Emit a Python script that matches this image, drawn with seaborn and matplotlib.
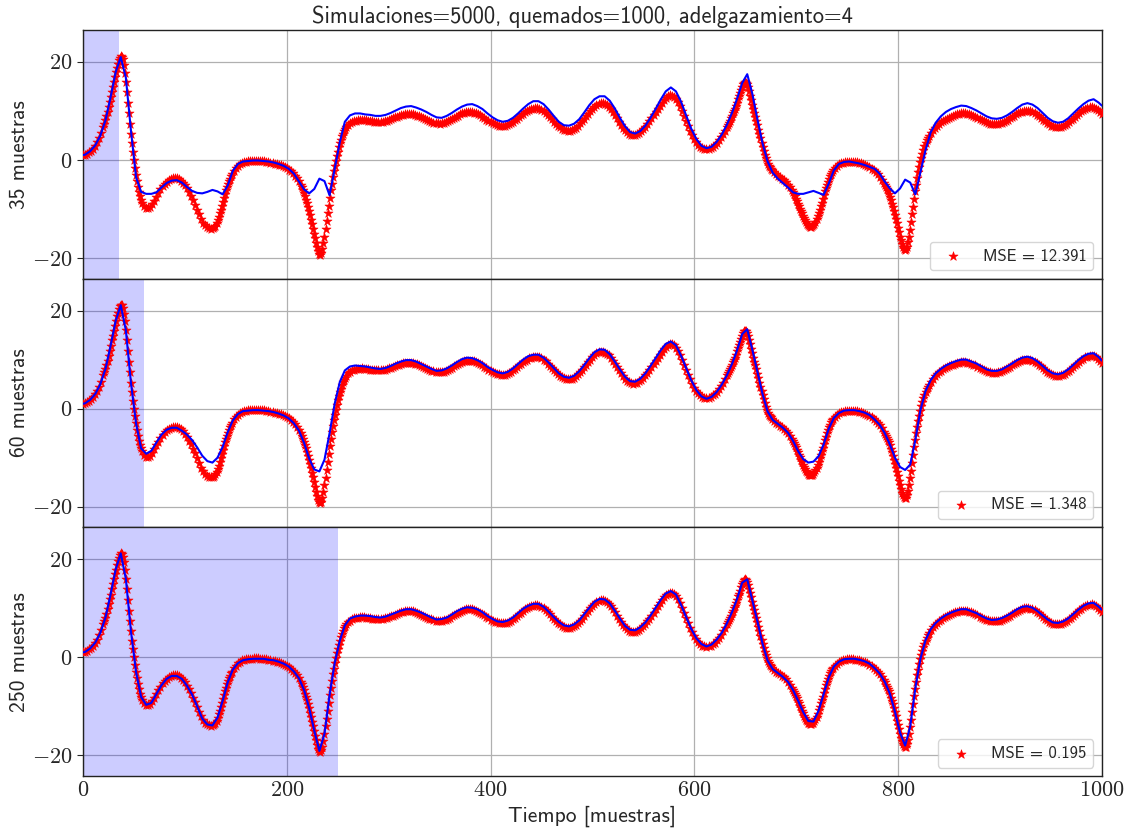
import numpy as np
import pandas as pd
import matplotlib
matplotlib.use('Agg')
import matplotlib.pyplot as plt
from matplotlib.ticker import FuncFormatter
import seaborn as sns

# true signal (red stars): every 2nd sample where smooth, every sample where steep
true_t = np.concatenate([
    np.arange(0, 20, 2), np.arange(20, 59), np.arange(60, 127, 2),
    np.arange(128, 147), np.arange(148, 213, 2), np.arange(214, 259),
    np.arange(260, 631, 2), np.arange(632, 677), np.arange(678, 695, 2),
    np.arange(696, 737), np.arange(738, 785, 2), np.arange(786, 831),
    np.arange(832, 1001, 2)])
true_y = [
    # 0..18
    1.0, 1.1, 1.3, 1.6, 1.9, 2.3, 2.9, 3.6, 4.5, 5.5,
    # 20..58
    6.8, 7.4, 8.1, 8.9, 9.8, 10.8, 11.8, 12.8, 13.9, 14.9,
    15.9, 16.9, 17.9, 18.8, 19.6, 20.3, 20.9, 21.2, 21.1, 20.5,
    19.4, 17.8, 16.0, 13.9, 11.7, 9.5, 7.4, 5.3, 3.4, 1.6,
    0.0, -1.6, -3.0, -4.3, -5.5, -6.5, -7.4, -8.1, -8.7,
    # 60..126
    -9.4, -9.8, -9.8, -9.6, -9.0, -8.3, -7.5, -6.7, -6.0, -5.3,
    -4.8, -4.4, -4.1, -3.9, -3.7, -3.7, -3.7, -3.9, -4.2, -4.6,
    -5.1, -5.8, -6.5, -7.3, -8.2, -9.1, -10.1, -11.1, -12.0, -12.8,
    -13.3, -13.7, -13.9, -14.0,
    # 128..146
    -13.9, -13.7, -13.4, -12.9, -12.3, -11.6, -10.9, -10.1, -9.3, -8.5,
    -7.7, -6.9, -6.2, -5.5, -4.9, -4.3, -3.8, -3.3, -2.9,
    # 148..212
    -2.2, -1.7, -1.2, -0.9, -0.6, -0.5, -0.4, -0.3, -0.3, -0.3,
    -0.2, -0.2, -0.2, -0.3, -0.3, -0.3, -0.4, -0.5, -0.6, -0.7,
    -0.8, -0.9, -1.0, -1.1, -1.3, -1.5, -1.7, -2.0, -2.3, -2.7,
    -3.2, -3.7, -4.3,
    # 214..258
    -5.0, -5.5, -6.1, -6.7,
    -7.4, -8.1, -8.8, -9.6, -10.4, -11.3, -12.2, -13.1, -14.0, -15.0,
    -16.0, -16.9, -17.8, -18.6, -19.1, -19.3, -19.0, -18.2, -17.0, -15.6,
    -14.1, -12.5, -10.9, -9.3, -7.7, -6.2, -4.8, -3.5, -2.3, -1.2,
    -0.2, 0.8, 1.7, 2.6, 3.4, 4.1, 4.8, 5.4, 5.9, 6.3, 6.7,
    # 260..630
    7.2, 7.5, 7.8, 7.95, 8.05, 8.1, 8.15, 8.2, 8.15, 8.1,
    8.0, 7.95, 7.9, 7.85, 7.8, 7.8, 7.8, 7.85, 7.95, 8.05,
    8.2, 8.35, 8.5, 8.7, 8.85, 9.0, 9.15, 9.25, 9.35, 9.4,
    9.4, 9.4, 9.35, 9.2, 9.05, 8.9, 8.7, 8.5, 8.3, 8.1,
    7.9, 7.75, 7.6, 7.5, 7.45, 7.4, 7.45, 7.55, 7.7, 7.9,
    8.1, 8.35, 8.6, 8.8, 9.05, 9.3, 9.5, 9.65, 9.75, 9.8,
    9.8, 9.75, 9.65, 9.5, 9.3, 9.1, 8.85, 8.55, 8.25, 7.95,
    7.7, 7.45, 7.25, 7.1, 7.0, 6.9, 6.9, 6.95, 7.05, 7.25,
    7.5, 7.8, 8.1, 8.45, 8.8, 9.1, 9.45, 9.75, 10.0, 10.25,
    10.4, 10.5, 10.6, 10.6, 10.5, 10.3, 10.0, 9.65, 9.2, 8.75,
    8.3, 7.85, 7.4, 7.0, 6.7, 6.4, 6.2, 6.05, 6.0, 6.0,
    6.1, 6.35, 6.6, 7.0, 7.45, 7.9, 8.4, 8.95, 9.45, 10.0,
    10.5, 10.9, 11.25, 11.5, 11.6, 11.6, 11.45, 11.2, 10.9, 10.4,
    9.8, 9.15, 8.5, 7.85, 7.2, 6.6, 6.1, 5.7, 5.4, 5.2,
    5.1, 5.15, 5.3, 5.55, 5.9, 6.3, 6.8, 7.3, 7.9, 8.5,
    9.1, 9.75, 10.4, 11.0, 11.6, 12.2, 12.65, 13.0, 13.2, 13.15,
    12.9, 12.4, 11.8, 11.0, 10.0, 9.0, 7.95, 6.9, 5.95, 5.1,
    4.3, 3.7, 3.15, 2.7, 2.4, 2.2, 2.15, 2.2, 2.4, 2.7,
    3.0, 3.45, 4.0, 4.6, 5.3, 6.0,
    # 632..676
    6.8, 7.2, 7.6, 8.0, 8.5, 9.0, 9.5, 10.0, 10.4, 11.0,
    11.7, 12.4, 13.0, 13.6, 14.3, 14.9, 15.4, 15.8, 15.9, 15.8,
    15.4, 14.8, 14.0, 13.1, 12.2, 11.3, 10.4, 9.6, 8.8, 8.0,
    7.1, 6.2, 5.3, 4.4, 3.5, 2.7, 1.9, 1.1, 0.4, -0.2,
    -0.8, -1.2, -1.5, -1.8, -2.1,
    # 678..694
    -2.5, -2.9, -3.2, -3.5, -3.8, -4.1, -4.5, -5.0, -5.6,
    # 696..736
    -6.2, -6.6, -7.0, -7.4, -7.9, -8.4, -8.9, -9.4, -9.9, -10.4,
    -10.9, -11.4, -11.9, -12.3, -12.7, -13.0, -13.3, -13.5, -13.6, -13.6,
    -13.5, -13.3, -13.0, -12.6, -12.1, -11.5, -10.8, -10.1, -9.4, -8.7,
    -8.0, -7.2, -6.4, -5.7, -5.0, -4.4, -3.8, -3.3, -2.8, -2.4,
    -2.1,
    # 738..784
    -1.7, -1.3, -0.9, -0.7, -0.6, -0.5, -0.4, -0.4, -0.4, -0.4,
    -0.5, -0.5, -0.6, -0.7, -0.9, -1.0, -1.2, -1.5, -1.8, -2.1,
    -2.5, -2.9, -3.4, -4.0,
    # 786..830
    -4.7, -5.1, -5.6, -6.0, -6.4, -6.9,
    -7.5, -8.2, -8.9, -9.6, -10.4, -11.2, -12.0, -12.9, -13.8, -14.7,
    -15.6, -16.4, -17.1, -17.7, -18.1, -18.3, -18.2, -17.7, -16.8, -15.6,
    -14.2, -12.7, -11.1, -9.5, -7.9, -6.4, -5.0, -3.7, -2.5, -1.4,
    -0.4, 0.5, 1.3, 2.1, 2.8, 3.4, 4.0, 4.5, 4.9,
    # 832..1000
    5.5, 6.1, 6.6, 7.0, 7.4, 7.7, 8.0, 8.2, 8.4, 8.6,
    8.8, 9.0, 9.2, 9.3, 9.4, 9.5, 9.5, 9.5, 9.4, 9.3,
    9.15, 9.0, 8.8, 8.55, 8.3, 8.1, 7.9, 7.7, 7.55, 7.4,
    7.35, 7.3, 7.3, 7.4, 7.5, 7.65, 7.8, 8.0, 8.25, 8.5,
    8.8, 9.05, 9.3, 9.5, 9.7, 9.85, 9.95, 10.0, 10.0, 9.9,
    9.75, 9.55, 9.25, 8.95, 8.6, 8.25, 7.9, 7.55, 7.25, 7.0,
    6.85, 6.75, 6.7, 6.7, 6.8, 6.95, 7.15, 7.4, 7.75, 8.1,
    8.45, 8.85, 9.2, 9.55, 9.9, 10.2, 10.45, 10.6, 10.75, 10.8,
    10.7, 10.45, 10.1, 9.7, 9.3,
]

# estimates (blue lines), samples 0, 2, 7, ..., 997, 1000
est_t = np.r_[0, np.arange(2, 1000, 5), 1000]

est_35 = [
    1.0,
    1.1, 1.8, 3.0, 5.0, 8.1, 12.8, 17.9, 21.0, 16.8, 6.0,
    -3.5, -6.5, -6.9, -6.9, -6.6, -5.6, -4.7, -4.2, -4.1, -4.6,
    -5.5, -6.3, -6.7, -6.8, -6.5, -6.1, -6.4, -7.0, -5.2, -2.2,
    -0.8, -0.3, -0.2, -0.1, -0.1, -0.2, -0.3, -0.5, -0.8, -1.2,
    -1.8, -2.8, -4.4, -6.0, -6.8, -5.9, -3.8, -4.3, -7.2, -1.8,
    3.6, 7.8, 9.1, 9.5, 9.5, 9.3, 9.2, 9.0, 9.0, 9.2,
    9.6, 10.1, 10.6, 10.9, 11.0, 10.7, 10.3, 9.8, 9.2, 8.7,
    8.6, 9.0, 9.6, 10.3, 10.9, 11.3, 11.4, 11.0, 10.4, 9.5,
    8.7, 8.1, 7.8, 8.0, 8.6, 9.5, 10.5, 11.4, 12.0, 12.0,
    11.4, 10.3, 9.0, 7.8, 7.1, 7.0, 7.4, 8.3, 9.7, 11.2,
    12.4, 13.0, 13.0, 12.1, 10.5, 8.6, 6.9, 5.7, 5.4, 5.9,
    7.0, 8.6, 10.4, 12.3, 14.0, 14.8, 14.0, 11.9, 9.1, 6.4,
    4.3, 2.9, 2.4, 2.7, 3.7, 5.2, 7.2, 9.6, 12.5, 15.7,
    17.5, 13.5, 8.3, 3.4, -0.3, -2.6, -3.8, -4.7, -5.6, -6.6,
    -6.9, -6.9, -6.6, -6.3, -6.7, -7.1, -4.8, -2.1, -0.8, -0.4,
    -0.3, -0.5, -0.7, -1.0, -1.4, -1.8, -2.8, -4.4, -5.8, -6.8,
    -5.8, -4.0, -4.6, -7.0, -2.5, 2.0, 5.6, 7.6, 8.9, 9.8,
    10.4, 10.8, 11.1, 11.0, 10.6, 10.1, 9.5, 8.9, 8.5, 8.4,
    8.6, 9.1, 9.8, 10.6, 11.3, 11.6, 11.3, 10.6, 9.6, 8.6,
    7.9, 7.6, 7.8, 8.5, 9.5, 10.5, 11.4, 12.1, 12.4, 11.7,
    11.1,
]

est_60 = [
    1.0,
    1.1, 1.8, 3.0, 5.0, 8.1, 12.8, 17.9, 21.1, 16.0, 5.3,
    -3.0, -8.1, -9.2, -8.6, -6.9, -5.3, -4.3, -3.9, -3.9, -4.5,
    -5.3, -6.4, -7.9, -9.6, -10.7, -11.0, -10.0, -7.8, -4.8, -2.4,
    -1.1, -0.5, -0.4, -0.3, -0.3, -0.4, -0.5, -0.7, -1.0, -1.4,
    -2.0, -3.0, -4.5, -7.0, -10.2, -12.4, -12.8, -10.4, -5.0, 1.0,
    5.4, 7.8, 8.6, 8.8, 8.7, 8.6, 8.4, 8.2, 8.1, 8.3,
    8.7, 9.2, 9.6, 9.9, 9.9, 9.6, 9.1, 8.6, 8.1, 7.7,
    7.8, 8.2, 8.8, 9.5, 10.1, 10.4, 10.3, 9.9, 9.3, 8.5,
    7.9, 7.4, 7.2, 7.5, 8.2, 9.1, 10.0, 10.7, 11.0, 11.0,
    10.4, 9.4, 8.3, 7.2, 6.5, 6.3, 6.7, 7.6, 8.9, 10.3,
    11.5, 12.1, 12.0, 11.1, 9.6, 8.0, 6.5, 5.6, 5.5, 6.1,
    7.2, 8.7, 10.3, 11.9, 13.2, 13.7, 12.9, 10.8, 8.3, 5.8,
    3.8, 2.5, 2.0, 2.4, 3.4, 4.9, 6.8, 9.1, 11.9, 15.2,
    16.2, 12.0, 7.5, 3.0, -0.6, -2.3, -3.1, -3.9, -4.9, -6.6,
    -8.7, -10.3, -11.0, -10.8, -9.7, -7.3, -4.1, -1.9, -0.9, -0.4,
    -0.3, -0.3, -0.5, -0.8, -1.3, -2.2, -3.3, -5.0, -7.3, -10.0,
    -11.9, -12.5, -11.4, -6.4, -0.3, 3.6, 5.8, 7.2, 8.1, 8.8,
    9.3, 9.7, 10.0, 10.0, 9.6, 9.2, 8.6, 8.0, 7.7, 7.7,
    8.0, 8.6, 9.2, 9.9, 10.4, 10.6, 10.3, 9.6, 8.7, 7.8,
    7.2, 7.0, 7.3, 8.0, 8.9, 9.9, 10.7, 11.2, 11.3, 10.5,
    9.8,
]

est_250 = [
    1.0,
    1.1, 1.8, 3.0, 5.0, 8.1, 12.8, 17.9, 21.2, 16.0, 5.3,
    -3.0, -8.1, -9.7, -9.3, -7.5, -5.7, -4.4, -3.8, -3.8, -4.4,
    -5.8, -7.6, -10.0, -12.5, -13.7, -13.9, -12.3, -8.9, -5.1, -2.5,
    -1.2, -0.6, -0.4, -0.3, -0.3, -0.3, -0.5, -0.6, -0.9, -1.3,
    -1.9, -2.9, -4.3, -6.7, -10.4, -15.0, -19.1, -15.6, -7.7, -1.2,
    3.4, 6.5, 7.9, 8.3, 8.5, 8.5, 8.4, 8.2, 8.1, 8.3,
    8.7, 9.1, 9.5, 9.8, 9.8, 9.5, 9.1, 8.6, 8.1, 7.7,
    7.8, 8.1, 8.7, 9.4, 9.9, 10.2, 10.1, 9.8, 9.2, 8.4,
    7.8, 7.3, 7.2, 7.5, 8.1, 9.0, 9.9, 10.5, 10.9, 10.9,
    10.3, 9.3, 8.2, 7.2, 6.5, 6.3, 6.7, 7.5, 8.8, 10.1,
    11.3, 11.9, 11.8, 11.0, 9.5, 7.9, 6.4, 5.6, 5.5, 6.1,
    7.1, 8.5, 10.1, 11.7, 13.0, 13.5, 12.8, 10.7, 8.2, 5.8,
    3.9, 2.7, 2.2, 2.6, 3.6, 5.0, 6.9, 9.2, 11.9, 15.2,
    15.9, 11.6, 7.3, 2.8, -0.7, -2.4, -3.2, -4.0, -5.0, -6.7,
    -8.9, -11.2, -13.0, -13.1, -10.9, -7.5, -4.1, -1.9, -0.9, -0.4,
    -0.3, -0.3, -0.5, -0.8, -1.3, -2.2, -3.3, -5.0, -7.4, -11.1,
    -15.4, -18.0, -14.1, -6.3, -0.3, 3.5, 5.7, 7.0, 7.9, 8.6,
    9.1, 9.5, 9.8, 9.8, 9.4, 9.0, 8.4, 7.9, 7.6, 7.7,
    8.0, 8.5, 9.1, 9.8, 10.3, 10.4, 10.1, 9.4, 8.5, 7.7,
    7.1, 7.0, 7.3, 7.9, 8.8, 9.7, 10.5, 11.0, 11.1, 10.3,
    9.7,
]

n_obs = [35, 60, 250]
mse_text = ['12.391', '1.348', '0.195']
estimates = [est_35, est_60, est_250]

assert len(true_t) == len(true_y), (len(true_t), len(true_y))
for e in estimates:
    assert len(e) == len(est_t), (len(e), len(est_t))

sns.set_style('white')
plt.rcParams['font.family'] = ['cmss10', 'DejaVu Sans']
plt.rcParams['mathtext.fontset'] = 'cm'
plt.rcParams['mathtext.default'] = 'rm'

true_df = pd.DataFrame({'t': true_t, 'y': true_y})
tick_fmt = FuncFormatter(lambda v, pos: f'${v:g}$')

fig, axes = plt.subplots(3, 1, figsize=(11.3, 8.35), dpi=100, sharex=True)
fig.subplots_adjust(left=0.0735, right=0.975, top=0.964, bottom=0.0707, hspace=0)

for ax, n, est, err in zip(axes, n_obs, estimates, mse_text):
    ax.axvspan(0, n, color='blue', alpha=0.2, lw=0, zorder=1)
    sns.scatterplot(data=true_df, x='t', y='y', ax=ax, marker='*', s=48,
                    color='red', edgecolor='red', linewidth=0.4,
                    label=f'MSE = {err}', zorder=3)
    sns.lineplot(x=est_t, y=est, ax=ax, color='blue', lw=1.5,
                 legend=False, zorder=4)
    ax.set_xlim(0, 1000)
    ax.set_ylim(-24.2, 26.5)
    ax.set_yticks([-20, 0, 20])
    ax.yaxis.set_major_formatter(tick_fmt)
    ax.grid(True, color='#b0b0b0', lw=0.9)
    ax.set_axisbelow(True)
    ax.set_ylabel(f'{n} muestras', fontsize=15.5, labelpad=2)
    ax.set_xlabel('')
    ax.tick_params(axis='y', direction='out', length=4, labelsize=16, left=True)
    ax.tick_params(axis='x', direction='in', length=0, labelsize=16)
    for sp in ax.spines.values():
        sp.set_color('#222222')
        sp.set_linewidth(1.0)
    ax.legend(loc='lower right', fontsize=12, handletextpad=0.8)

axes[0].set_title('Simulaciones=5000, quemados=1000, adelgazamiento=4',
                  fontsize=16.3, pad=5, x=0.4905)
axes[-1].set_xlabel('Tiempo [muestras]', fontsize=15.5)
axes[-1].set_xticks([0, 200, 400, 600, 800, 1000])
axes[-1].xaxis.set_major_formatter(tick_fmt)

fig.savefig('out.png', dpi=100)
